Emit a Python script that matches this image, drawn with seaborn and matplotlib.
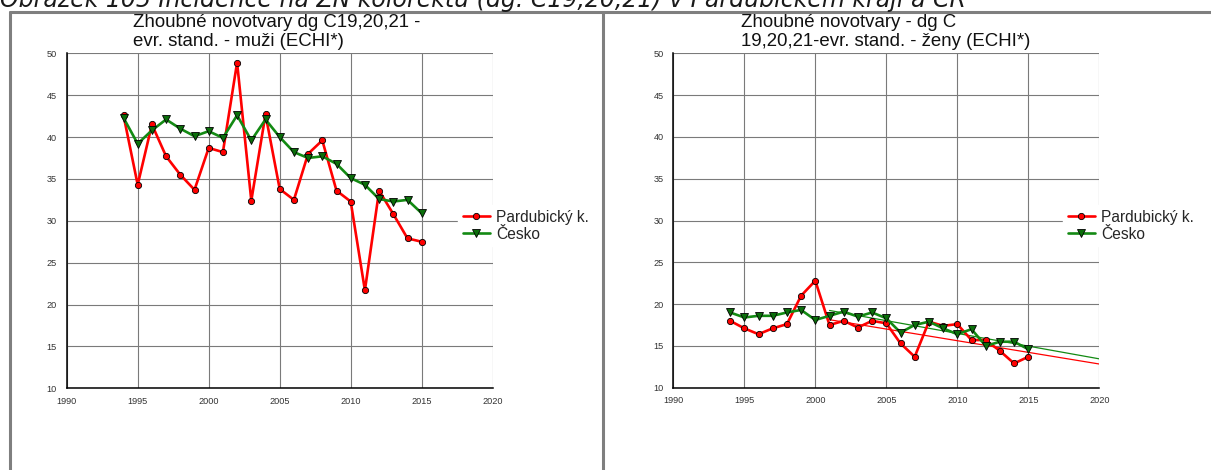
import numpy as np
import pandas as pd
import matplotlib
matplotlib.use("Agg")
import matplotlib.pyplot as plt
from matplotlib.lines import Line2D
from matplotlib.ticker import MultipleLocator
import seaborn as sns

# ---- data -------------------------------------------------------------
roky = list(range(1994, 2016))
oblasti = ["Pardubický k.", "Česko"]

muzi_pardubicky = [42.6, 34.3, 41.5, 37.7, 35.5, 33.7, 38.7, 38.2, 48.9, 32.4, 42.7,
                   33.8, 32.5, 38.0, 39.6, 33.6, 32.3, 21.7, 33.6, 30.8, 27.9, 27.5]
muzi_cesko = [42.3, 39.2, 40.8, 42.1, 41.0, 40.1, 40.7, 39.9, 42.6, 39.6, 42.1,
              40.0, 38.2, 37.5, 37.7, 36.8, 35.1, 34.3, 32.6, 32.3, 32.5, 30.9]
zeny_pardubicky = [18.0, 17.1, 16.4, 17.1, 17.6, 21.0, 22.8, 17.5, 18.0, 17.2, 18.0,
                   17.7, 15.3, 13.7, 17.9, 17.4, 17.6, 15.7, 15.7, 14.4, 12.9, 13.7]
zeny_cesko = [19.0, 18.4, 18.6, 18.6, 19.0, 19.3, 18.1, 18.6, 19.1, 18.5, 19.0,
              18.3, 16.6, 17.5, 17.9, 17.1, 16.4, 17.0, 15.0, 15.5, 15.5, 14.6]

titulek = "Obrázek 105 Incidence na ZN kolorektu (dg. C19,20,21) v Pardubickém kraji a ČR"
nadpis_muzi = ["Zhoubné novotvary dg C19,20,21 -", "evr. stand. - muži (ECHI*)"]
nadpis_zeny = ["Zhoubné novotvary - dg C", "19,20,21-evr. stand. - ženy (ECHI*)"]

# linear trend fitted over 2001-2015, drawn out to 2020
trend_od, trend_do = 2001, 2020

# ---- style ------------------------------------------------------------
sns.set_style("white")
plt.rcParams["font.family"] = ["Liberation Sans", "DejaVu Sans"]

barvy = {"Pardubický k.": "#ff0000", "Česko": "#138a13"}
znacky = {"Pardubický k.": "o", "Česko": "v"}
vyplne = {"Pardubický k.": "#ff0000", "Česko": "#0b6e0b"}

W, H = 1211, 470
fig = plt.figure(figsize=(W / 100, H / 100), dpi=100)
fig.patch.set_facecolor("white")


def px_axes(x0, y0, x1, y1):
    return fig.add_axes([x0 / W, 1 - y1 / H, (x1 - x0) / W, (y1 - y0) / H])


def long_df(pard, cz):
    return pd.DataFrame({
        "rok": roky * 2,
        "hodnota": pard + cz,
        "oblast": [oblasti[0]] * len(roky) + [oblasti[1]] * len(roky),
    })


def nakresli(ax, pard, cz, trend):
    df = long_df(pard, cz)
    if trend:
        for name, vals in zip(oblasti, [pard, cz]):
            r = np.array(roky)
            m = r >= trend_od
            k, q = np.polyfit(r[m], np.array(vals)[m], 1)
            xs = np.array([trend_od, trend_do])
            sns.lineplot(x=xs, y=k * xs + q, ax=ax, color=barvy[name], lw=0.9,
                         legend=False, zorder=2)
    for name in oblasti:
        sub = df[df["oblast"] == name]
        sns.lineplot(data=sub, x="rok", y="hodnota", ax=ax, color=barvy[name],
                     lw=1.9, marker=znacky[name], markersize=4.5 if name == oblasti[0] else 5.2,
                     markerfacecolor=vyplne[name], markeredgecolor="black",
                     markeredgewidth=0.6, label=name, zorder=3)

    ax.set_xlim(1990, 2020)
    ax.set_ylim(10, 50)
    ax.xaxis.set_major_locator(MultipleLocator(5))
    ax.xaxis.set_minor_locator(MultipleLocator(1))
    ax.yaxis.set_major_locator(MultipleLocator(5))
    ax.yaxis.set_minor_locator(MultipleLocator(1))
    ax.grid(True, which="major", color="#7a7a7a", lw=0.8)
    ax.set_axisbelow(True)
    ax.set_xlabel("")
    ax.set_ylabel("")
    for s in ["top", "right"]:
        ax.spines[s].set_visible(False)
    for s in ["left", "bottom"]:
        ax.spines[s].set_color("black")
        ax.spines[s].set_linewidth(1.1)
    ax.tick_params(axis="both", which="both", direction="out", color="black",
                   labelsize=6.6, labelcolor="#333333", width=0.9, pad=1.5)
    ax.tick_params(axis="y", which="major", length=5.5)
    ax.tick_params(axis="y", which="minor", length=3)
    ax.tick_params(axis="x", which="major", length=4.5)
    ax.tick_params(axis="x", which="minor", length=2.8)


def legenda(ax, x, y):
    h, l = ax.get_legend_handles_labels()
    leg = ax.legend(h, l, loc="upper left", bbox_to_anchor=(x / W, 1 - y / H),
                    bbox_transform=fig.transFigure, fontsize=11.2, frameon=True,
                    facecolor="white", edgecolor="white", framealpha=1,
                    fancybox=False, borderpad=0.3, borderaxespad=0,
                    handlelength=1.75, handletextpad=0.4, labelspacing=0.12)
    leg.set_zorder(10)


ax1 = px_axes(66.7, 53.3, 492.7, 388.3)
nakresli(ax1, muzi_pardubicky, muzi_cesko, trend=False)
legenda(ax1, 458, 205)

ax2 = px_axes(673.3, 53.3, 1099.3, 387.7)
nakresli(ax2, zeny_pardubicky, zeny_cesko, trend=True)
legenda(ax2, 1063, 205)

# panel titles
for x0, radky in [(133, nadpis_muzi), (741, nadpis_zeny)]:
    fig.text(x0 / W, 1 - 27 / H, radky[0], fontsize=13.4, va="baseline", ha="left",
             color="#111111")
    fig.text(x0 / W, 1 - 46 / H, radky[1], fontsize=13.4, va="baseline", ha="left",
             color="#111111")

# caption above the table, partly cut off by the top edge
fig.text(-0.5 / W, 1 - 7.5 / H, titulek, fontsize=17, style="italic",
         family="DejaVu Sans", va="baseline", ha="left", color="#1a1a1a")

# table frame around the two panels
seda = "#7f7f7f"
for xs, ys in [((10 / W, 1), (1 - 12 / H, 1 - 12 / H)),
               ((10 / W, 10 / W), (1 - 12 / H, 0)),
               ((602.7 / W, 602.7 / W), (1 - 12 / H, 0))]:
    fig.add_artist(Line2D(xs, ys, transform=fig.transFigure, color=seda, lw=2.2))

fig.savefig("out.png", dpi=100)
